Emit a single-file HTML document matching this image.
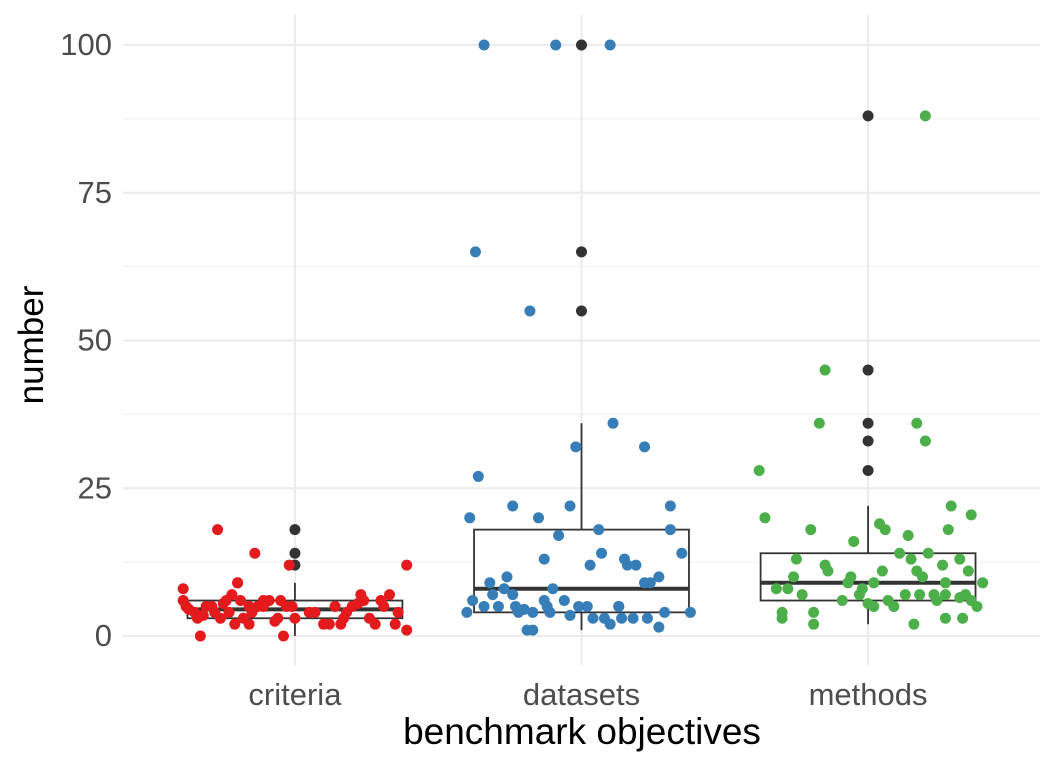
<!DOCTYPE html>
<html><head><meta charset="utf-8"><style>
html,body{margin:0;padding:0;background:#fff}
svg{display:block;font-family:"Liberation Sans",sans-serif}
</style></head><body>
<svg id="chart" width="1056" height="768"></svg>
<script>
const categories=["criteria","datasets","methods"];
const colors=["#E41A1C","#377EB8","#4DAF4A"];
const yTicks=[0,25,50,75,100];
// box stats: [lower whisker, q1, median, q3, upper whisker]
const boxStats=[[0,3,4.5,6,9],[1,4,8,18,36],[2,6,9,14,22]];
const outliers=[[12,14,18],[55,65,100],[28,33,36,45,88]];
// jittered points: x offset (category units), value
const critJit=[-0.39,-0.39,-0.38,-0.37,-0.35,-0.34,-0.33,-0.32,-0.31,-0.29,-0.28,-0.27,-0.26,-0.25,-0.24,-0.23,-0.22,-0.21,-0.2,-0.2,-0.19,-0.18,-0.16,-0.15,-0.14,-0.13,-0.11,-0.09,-0.07,-0.06,-0.05,-0.04,-0.03,-0.02,-0.01,0.00,0.05,0.07,0.10,0.14,0.16,0.17,0.18,0.2,0.23,0.24,0.26,0.28,0.3,0.31,0.33,0.35,0.36,0.39,0.39,0.22,0.12,-0.16,-0.11];
const critVal=[6,8,5,4.5,4,3,0,3.5,5,5,4,18,3,5.5,6,4,7,2,9,9,6,3,5,4,14,5,6,6,2.5,3,6,0,5,12,5,3,4,4,2,5,2,3,4,5,7,6,3,2,6,5,7,2,4,1,12,5.5,2,2,5];
const dataJit=[-0.4,-0.39,-0.38,-0.37,-0.36,-0.34,-0.34,-0.32,-0.31,-0.29,-0.27,-0.26,-0.24,-0.24,-0.23,-0.22,-0.2,-0.19,-0.18,-0.17,-0.17,-0.15,-0.13,-0.13,-0.12,-0.11,-0.1,-0.09,-0.08,-0.06,-0.04,-0.04,-0.02,-0.01,0.02,0.03,0.04,0.06,0.07,0.08,0.1,0.1,0.11,0.13,0.13,0.14,0.15,0.16,0.18,0.19,0.22,0.22,0.23,0.24,0.27,0.27,0.29,0.31,0.31,0.35,0.38];
const dataVal=[4,20,6,65,27,100,5,9,7,5,8,10,22,7,5,4,4.5,1,55,1,4,20,13,6,5,4,8,100,17,6,22,3.5,32,5,5,12,3,18,14,3,100,2,36,5,5,3,13,12,3,12,9,32,3,9,1.5,10,4,18,22,14,4];
const methJit=[-0.38,-0.36,-0.32,-0.3,-0.3,-0.28,-0.26,-0.25,-0.23,-0.2,-0.19,-0.19,-0.17,-0.15,-0.15,-0.14,-0.09,-0.07,-0.06,-0.05,-0.03,-0.02,0.00,0.02,0.02,0.04,0.05,0.06,0.07,0.09,0.11,0.13,0.14,0.15,0.16,0.17,0.17,0.18,0.19,0.2,0.2,0.21,0.23,0.24,0.26,0.27,0.27,0.28,0.29,0.32,0.32,0.33,0.34,0.35,0.36,0.36,0.38,0.4,0.27];
const methVal=[28,20,8,3,4,8,10,13,7,18,2,4,36,45,12,11,6,9,10,16,7,8,5.5,9,5,19,11,18,6,5,14,7,17,13,2,36,11,7,10,33,88,14,7,6,12,9,7,18,22,13,6.5,3,7,11,20.5,6,5,9,3];
const jitters=[critJit,dataJit,methJit];
const values=[critVal,dataVal,methVal];

const NS="http://www.w3.org/2000/svg";
const svg=document.getElementById("chart");
const L=123,R=1040,T=15,B=665;
const xScale=c=>L+(c+1-0.4)*(R-L)/3.2;
const yScale=v=>636-v*5.91;
function mk(tag,attrs,parent){const e=document.createElementNS(NS,tag);for(const k in attrs)e.setAttribute(k,attrs[k]);(parent||svg).appendChild(e);return e;}

// grid
const grid=mk("g",{});


for(let v=12.5;v<100;v+=25){mk("line",{x1:L,x2:R,y1:yScale(v),y2:yScale(v),stroke:"#f0f0f0","stroke-width":1},grid);}
yTicks.forEach(v=>{mk("line",{x1:L,x2:R,y1:yScale(v),y2:yScale(v),stroke:"#ebebeb","stroke-width":2},grid);});
categories.forEach((c,i)=>{mk("line",{x1:xScale(i),x2:xScale(i),y1:T,y2:B,stroke:"#ebebeb","stroke-width":2},grid);});

// boxplots
const hw=0.375*(R-L)/3.2;
boxStats.forEach((s,i)=>{
  const g=mk("g",{});
  
  
  const x=xScale(i);
  mk("line",{x1:x,x2:x,y1:yScale(s[0]),y2:yScale(s[1]),stroke:"#333","stroke-width":1.8},g);
  mk("line",{x1:x,x2:x,y1:yScale(s[3]),y2:yScale(s[4]),stroke:"#333","stroke-width":1.8},g);
  mk("rect",{x:x-hw,y:yScale(s[3]),width:2*hw,height:yScale(s[1])-yScale(s[3]),fill:"#fff",stroke:"#333","stroke-width":1.8},g);
  mk("line",{x1:x-hw,x2:x+hw,y1:yScale(s[2]),y2:yScale(s[2]),stroke:"#333","stroke-width":4},g);
  outliers[i].forEach(v=>{
    const o=mk("circle",{cx:x,cy:yScale(v),r:5.5,fill:"#333"},g);
    
    
  });
});

// jitter points
values.forEach((vals,i)=>{
  const g=mk("g",{});
  
  
  vals.forEach((v,j)=>{
    const p=mk("circle",{cx:xScale(i+jitters[i][j]),cy:yScale(v),r:5.5,fill:colors[i]},g);
    
    
  });
});

// axes labels
yTicks.forEach(v=>{
  const t=mk("text",{x:112,y:yScale(v)+10,"text-anchor":"end","font-size":31,fill:"#4d4d4d"});
  t.textContent=v;
  
  
});
categories.forEach((c,i)=>{
  const t=mk("text",{x:xScale(i),y:705,"text-anchor":"middle","font-size":31,fill:"#4d4d4d"});
  t.textContent=c;
  
  
});
const xt=mk("text",{x:582,y:744,"text-anchor":"middle","font-size":37,fill:"#000"});
xt.textContent="benchmark objectives";


const yt=mk("text",{x:0,y:0,"text-anchor":"middle","font-size":35,fill:"#000",transform:"translate(43,345) rotate(-90)"});
yt.textContent="number";


</script>
</body></html>
